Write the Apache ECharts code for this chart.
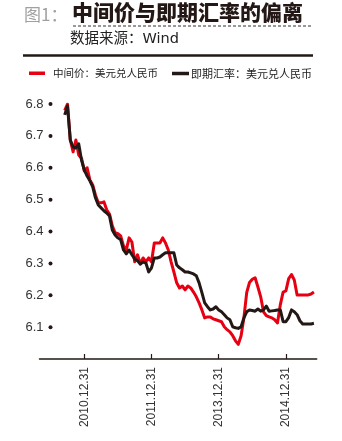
<!DOCTYPE html>
<html>
<head>
<meta charset="utf-8">
<script src="https://cdn.jsdelivr.net/npm/echarts@6/dist/echarts.min.js"></script>
<style>
  html, body { margin: 0; padding: 0; background: #fff; }
  #chart { width: 342px; height: 441px; }
</style>
</head>
<body>
<div id="chart"></div>
<script>
// Half-month periods along the x axis
const categories = Array.from({ length: 100 }, (_, i) => i);

// Labelled periods on the x axis and their text
const tickAt = [16, 40, 64, 88];
const tickLabels = ['2010.12.31', '2011.12.31', '2013.12.31', '2014.12.31'];

// USD/CNY central parity (中间价), starting at period 9
const parity = [
  null, null, null, null, null, null, null, null, null,
  6.780, 6.800, 6.687, 6.650, 6.687, 6.640, 6.630, 6.590, 6.600, 6.562, 6.546,
  6.514, 6.490, 6.490, 6.493, 6.468, 6.455, 6.418, 6.396, 6.393, 6.386,
  6.355, 6.342, 6.380, 6.367, 6.305, 6.327, 6.298, 6.317, 6.305, 6.317,
  6.305, 6.364, 6.364, 6.364, 6.380, 6.364, 6.342, 6.305, 6.273, 6.239,
  6.223, 6.229, 6.217, 6.229, 6.223, 6.210, 6.195, 6.176, 6.154, 6.129,
  6.132, 6.132, 6.126, 6.123, 6.120, 6.117, 6.101, 6.092, 6.085, 6.073,
  6.057, 6.046, 6.073, 6.129, 6.208, 6.240, 6.250, 6.255, 6.226, 6.195,
  6.148, 6.136, 6.132, 6.129, 6.123, 6.113, 6.170, 6.210, 6.214, 6.252,
  6.265, 6.248, 6.201, 6.201, 6.201, 6.201, 6.201, 6.204, 6.210
];

// USD/CNY spot rate (即期汇率), starting at period 9
const spot = [
  null, null, null, null, null, null, null, null, null,
  6.766, 6.794, 6.687, 6.665, 6.662, 6.675, 6.624, 6.593, 6.574, 6.559, 6.540,
  6.505, 6.483, 6.474, 6.465, 6.458, 6.449, 6.405, 6.389, 6.380, 6.374,
  6.342, 6.330, 6.342, 6.327, 6.314, 6.308, 6.298, 6.304, 6.301, 6.273,
  6.286, 6.317, 6.317, 6.320, 6.327, 6.333, 6.333, 6.333, 6.333, 6.295,
  6.286, 6.280, 6.273, 6.273, 6.270, 6.267, 6.261, 6.239, 6.208, 6.176,
  6.164, 6.154, 6.157, 6.164, 6.154, 6.148, 6.139, 6.129, 6.123, 6.101,
  6.098, 6.096, 6.101, 6.129, 6.148, 6.154, 6.152, 6.150, 6.157, 6.150,
  6.154, 6.166, 6.150, 6.151, 6.152, 6.154, 6.154, 6.117, 6.117, 6.130,
  6.154, 6.148, 6.139, 6.120, 6.110, 6.110, 6.110, 6.110, 6.112
];

const RED = '#e60012';
const INK = '#231815';
const LATIN = '"Liberation Sans", Arial, sans-serif';
const CJK = '"Noto Sans CJK SC", sans-serif';

const chart = echarts.init(document.getElementById('chart'), null, { renderer: 'canvas' });

chart.setOption({
  backgroundColor: '#ffffff',
  animation: false,
  graphic: [
    { type: 'text', left: 24, top: 6,
      style: { text: '图1：', fill: '#a0a0a0', font: '17px ' + CJK } },
    { type: 'text', left: 72, top: 2,
      style: { text: '中间价与即期汇率的偏离', fill: INK, font: '900 21px ' + CJK } },
    { type: 'line', shape: { x1: 73, y1: 26, x2: 313, y2: 26 },
      style: { stroke: '#333', lineWidth: 1, lineDash: [3, 2] } },
    { type: 'text', left: 70, top: 32,
      style: { text: '数据来源：Wind', fill: '#222', font: '14.5px "DejaVu Sans", "Noto Sans CJK SC", sans-serif' } },
    { type: 'line', shape: { x1: 23, y1: 55.5, x2: 313, y2: 55.5 },
      style: { stroke: INK, lineWidth: 2.5 } }
  ],
  legend: [
    { left: 24, top: 63, itemWidth: 16, itemHeight: 3.5, icon: 'rect',
      data: ['中间价：美元兑人民币'],
      textStyle: { fontFamily: CJK, fontSize: 10.5, color: '#222', padding: [0, 0, 0, 3] } },
    { left: 167, top: 63, itemWidth: 17, itemHeight: 3.5, icon: 'rect',
      itemGap: 0,
      data: ['即期汇率：美元兑人民币'],
      textStyle: { fontFamily: CJK, fontSize: 11, color: '#222', padding: [0, 0, 0, -3] } }
  ],
  grid: { left: 39.5, top: 104, width: 277.2, bottom: 82, containLabel: false },
  xAxis: {
    type: 'category',
    data: categories,
    boundaryGap: false,
    axisLine: { show: true, lineStyle: { color: INK, width: 1.5 } },
    axisTick: {
      show: true, inside: true, length: 5,
      interval: (idx) => tickAt.includes(idx),
      lineStyle: { color: INK, width: 1.2 }
    },
    axisLabel: {
      interval: (idx) => tickAt.includes(idx),
      formatter: (v, idx) => { const k = tickAt.indexOf(idx); return k >= 0 ? tickLabels[k] : ''; },
      rotate: 90, margin: 8,
      fontFamily: LATIN, fontSize: 12, color: '#333'
    },
    splitLine: { show: false }
  },
  yAxis: {
    type: 'value',
    min: 6.0, max: 6.8, interval: 0.1,
    offset: -13,
    axisLine: { show: false },
    axisTick: { show: false },
    splitLine: { show: false },
    axisLabel: {
      margin: 0,
      formatter: (v) => v < 6.05 ? '' : '{t|' + v.toFixed(1) + '}{s|}{d|}',
      rich: {
        t: { fontFamily: LATIN, fontSize: 13, color: '#333' },
        s: { width: 5 },
        d: { width: 4, height: 4, backgroundColor: INK, borderRadius: 2 }
      }
    }
  },
  series: [
    { name: '中间价：美元兑人民币', type: 'line', data: parity,
      showSymbol: false, symbol: 'none', connectNulls: false,
      lineStyle: { color: RED, width: 3, join: 'round' }, itemStyle: { color: RED }, z: 2 },
    { name: '即期汇率：美元兑人民币', type: 'line', data: spot,
      showSymbol: false, symbol: 'none',
      lineStyle: { color: INK, width: 3, join: 'round' }, itemStyle: { color: INK }, z: 3 }
  ]
});
</script>
</body>
</html>
